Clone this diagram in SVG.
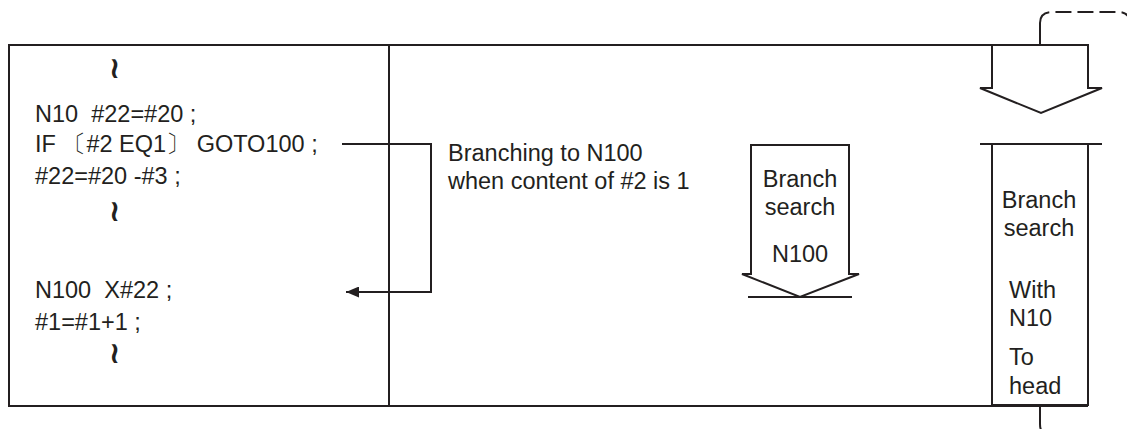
<svg xmlns="http://www.w3.org/2000/svg" width="1127" height="429" viewBox="0 0 1127 429">
  <style>
    .ln { fill: none; stroke: #231f20; stroke-width: 2; }
    .dash { fill: none; stroke: #231f20; stroke-width: 2; stroke-dasharray: 16 6; }
    .tx { font-family: "Liberation Sans", Arial, sans-serif; font-size: 23.5px; fill: #231f20; }
    .code { font-family: "Liberation Sans", Arial, sans-serif; font-size: 23.5px; fill: #231f20; }
    .wave { font-family: "DejaVu Sans", sans-serif; font-size: 30px; font-weight: bold; fill: #231f20; }
  </style>
  <defs>
    <marker id="arr" markerWidth="13" markerHeight="11" refX="13" refY="5.5" orient="auto" markerUnits="userSpaceOnUse">
      <path d="M0,0 L13,5.5 L0,11 Z" fill="#231f20"/>
    </marker>
  </defs>

  <g id="frame">
    <line class="ln" x1="9" y1="45" x2="1088" y2="45"/>
    <line class="ln" x1="9" y1="406" x2="1088" y2="406"/>
    <line class="ln" x1="9" y1="44" x2="9" y2="407"/>
    <line class="ln" x1="389" y1="45" x2="389" y2="406"/>
  </g>

  <g id="program">
    <text class="wave" x="109" y="78">≀</text>
    <text class="code" x="35" y="122" xml:space="preserve">N10  #22=#20 ;</text>
    <text class="code" x="35" y="152">IF 〔#2 EQ1〕 GOTO100 ;</text>
    <text class="code" x="35" y="184">#22=#20 -#3 ;</text>
    <text class="wave" x="109" y="221">≀</text>
    <text class="code" x="35" y="298" xml:space="preserve">N100  X#22 ;</text>
    <text class="code" x="35" y="330">#1=#1+1 ;</text>
    <text class="wave" x="109" y="363">≀</text>
  </g>

  <g id="branch-label">
    <text class="tx" x="448" y="161">Branching to N100</text>
    <text class="tx" x="448" y="189">when content of #2 is 1</text>
  </g>

  <g id="branch-search-n100">
    <path class="ln" d="M751,274 V145 H849 V274 L859,274 L800,297 L742,274 Z"/>
    <line class="ln" x1="748" y1="297" x2="852" y2="297"/>
    <text class="tx" x="800" y="187" text-anchor="middle">Branch</text>
    <text class="tx" x="800" y="215" text-anchor="middle">search</text>
    <text class="tx" x="800" y="262" text-anchor="middle">N100</text>
  </g>

  <g id="head-arrow">
    <path class="ln" d="M992,88 V45 H1088 V88 L1102,88 L1041,113 L980,88 Z"/>
  </g>

  <g id="branch-search-n10">
    <line class="ln" x1="980" y1="144" x2="1102" y2="144"/>
    <path class="ln" d="M992,144 V405 H1088 V144"/>
    <text class="tx" x="1039" y="208" text-anchor="middle">Branch</text>
    <text class="tx" x="1039" y="236" text-anchor="middle">search</text>
    <text class="tx" x="1009" y="298">With</text>
    <text class="tx" x="1009" y="326">N10</text>
    <text class="tx" x="1009" y="365">To</text>
    <text class="tx" x="1009" y="394">head</text>
  </g>

  <g id="connectors">
    <path class="ln" d="M342,144 H431 V292 H346" marker-end="url(#arr)"/>
    <line class="ln" x1="1040" y1="45" x2="1040" y2="23"/>
    <line class="ln" x1="1040" y1="406" x2="1040" y2="424"/>
    <path class="dash" d="M1040,23 Q1040,12 1052,12 H1118 Q1130,12 1130,24 V424 Q1130,436 1118,436 H1052 Q1040,436 1040,424"/>
  </g>
</svg>
